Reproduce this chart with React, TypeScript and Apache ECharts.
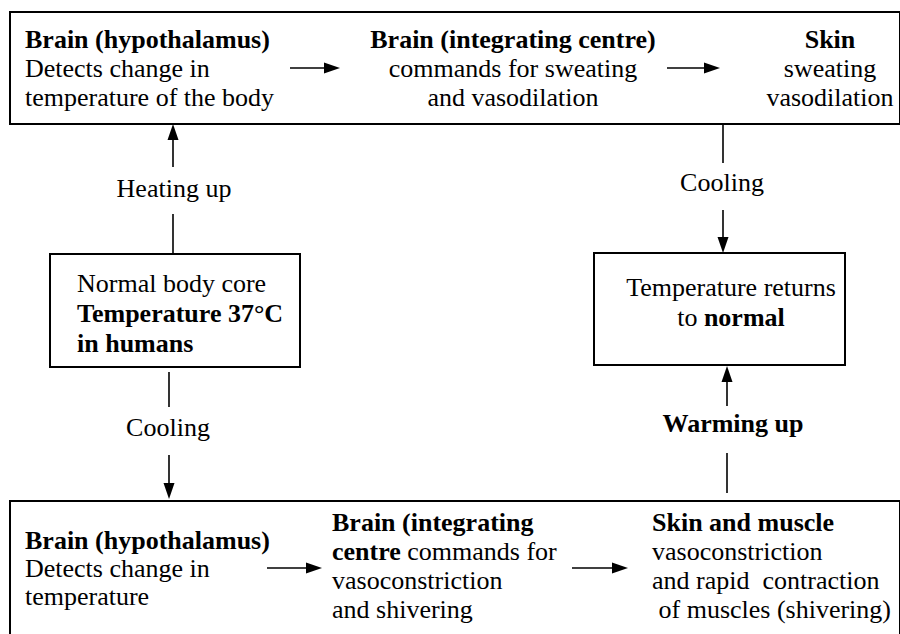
import React, { useEffect, useRef } from "react";
import * as echarts from "echarts";

// Diagram content
const topLeftText = ["{b|Brain (hypothalamus)}", "Detects change in", "temperature of the body"];
const topMidText = ["{b|Brain (integrating centre)}", "commands for sweating", "and vasodilation"];
const topRightText = ["{b|Skin}", "sweating", "vasodilation"];
const coreText = ["Normal body core", "{b|Temperature 37°C}", "{b|in humans}"];
const normalText = ["Temperature returns", "to {b|normal}"];
const botLeftText = ["{b|Brain (hypothalamus)}", "Detects change in", "temperature"];
const botMidText = ["{b|Brain (integrating}", "{b|centre} commands for", "vasoconstriction", "and shivering"];
const botRightText = ["{b|Skin and muscle}", "vasoconstriction", "and rapid  contraction", " of muscles (shivering)"];
const arrowLabels = ["Heating up", "Cooling", "Cooling", "{b|Warming up}"];

const FONT = "'Liberation Serif', 'Times New Roman', serif";
const FS = 26;
const INK = "#000";

function txt(text: string, x: number, y: number, align: string) {
  return {
    type: "text",
    silent: true,
    style: {
      text,
      x,
      y,
      align,
      verticalAlign: "middle",
      fontFamily: FONT,
      fontSize: FS,
      fill: INK,
      rich: {
        b: { fontFamily: FONT, fontSize: FS, fontWeight: "bold", fill: INK },
      },
    },
  };
}

function block(lines: string[], x: number, ys: number[], align: string) {
  return lines.map((l, i) => txt(l, x, ys[i], align));
}

function rect(x: number, y: number, w: number, h: number) {
  return {
    type: "rect",
    silent: true,
    shape: { x, y, width: w, height: h },
    style: { fill: "none", stroke: INK, lineWidth: 2 },
  };
}

function seg(x1: number, y1: number, x2: number, y2: number) {
  return {
    type: "line",
    silent: true,
    shape: { x1, y1, x2, y2 },
    style: { stroke: INK, lineWidth: 1.6 },
  };
}

// arrow head: tip point and direction
function head(tx: number, ty: number, dir: "up" | "down" | "right") {
  const L = 16;
  const W = 5.5;
  let pts: number[][];
  if (dir === "up") pts = [[tx, ty], [tx - W, ty + L], [tx + W, ty + L]];
  else if (dir === "down") pts = [[tx, ty], [tx - W, ty - L], [tx + W, ty - L]];
  else pts = [[tx, ty], [tx - L, ty - W], [tx - L, ty + W]];
  return {
    type: "polygon",
    silent: true,
    shape: { points: pts },
    style: { fill: INK, stroke: "none" },
  };
}

export default function App() {
  const ref = useRef<HTMLDivElement>(null);
  useEffect(() => {
    if (!ref.current) return;
    const chart = echarts.init(ref.current, null, { renderer: "svg" });
    const elements: any[] = [
      // boxes
      rect(10, 12, 890, 112),
      rect(50, 254, 250, 113),
      rect(594, 253, 251, 112),
      rect(10, 501, 890, 140),

      // heating up arrow (core -> top box)
      seg(173, 214, 173, 254),
      seg(173, 136, 173, 167),
      head(173, 124, "up"),
      txt(arrowLabels[0], 174, 188, "center"),

      // cooling (top box -> normal)
      seg(723, 124, 723, 163),
      seg(723, 210, 723, 240),
      head(723, 253, "down"),
      txt(arrowLabels[1], 722, 182, "center"),

      // cooling (core -> bottom box)
      seg(169, 372, 169, 407),
      seg(169, 455, 169, 486),
      head(169, 499, "down"),
      txt(arrowLabels[2], 168, 427, "center"),

      // warming up (bottom box -> normal)
      seg(727, 453, 727, 493),
      seg(727, 378, 727, 406),
      head(727, 366, "up"),
      txt(arrowLabels[3], 733, 423, "center"),

      // horizontal arrows
      seg(290, 68, 326, 68),
      head(340, 68, "right"),
      seg(667, 68, 706, 68),
      head(720, 68, "right"),
      seg(267, 568, 308, 568),
      head(322, 568, "right"),
      seg(572, 568, 614, 568),
      head(628, 568, "right"),

      ...block(topLeftText, 25, [39, 68, 97], "left"),
      ...block(topMidText, 513, [39, 68, 97], "center"),
      ...block(topRightText, 830, [39, 68, 97], "center"),
      ...block(coreText, 77, [283, 313, 343], "left"),
      ...block(normalText, 731, [287, 317], "center"),
      ...block(botLeftText, 25, [540, 568, 596], "left"),
      ...block(botMidText, 332, [522, 551, 580, 609], "left"),
      ...block(botRightText, 652, [522, 551, 580, 609], "left"),
    ];
    chart.setOption({
      animation: false,
      backgroundColor: "#fff",
      graphic: { elements },
    });
    return () => chart.dispose();
  }, []);
  return (
    <div
      ref={ref}
      style={{ position: "fixed", left: 0, top: 0, width: 900, height: 634, background: "#fff" }}
    />
  );
}
